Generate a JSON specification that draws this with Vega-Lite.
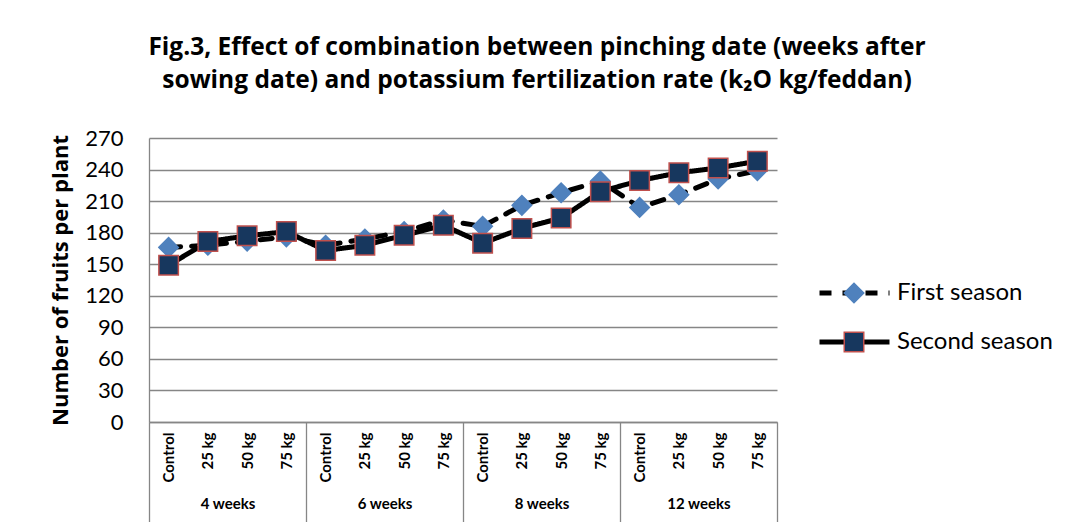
{
  "$schema": "https://vega.github.io/schema/vega-lite/v6.json",
  "autosize": {"type": "none"},
  "width": 628,
  "height": 284,
  "padding": {"left": 149, "top": 138, "right": 294, "bottom": 100},
  "background": "white",
  "config": {
    "font": "Lato",
    "view": {"stroke": null},
    "axis": {"domainColor": "#868686", "domainWidth": 1.3, "labelColor": "black", "titleColor": "black"}
  },
  "title": {
    "text": ["Fig.3, Effect of combination between pinching date (weeks after", "sowing date) and potassium fertilization rate (k₂O kg/feddan)"],
    "font": "Open Sans",
    "fontSize": 24.5,
    "fontWeight": "bold",
    "color": "black",
    "anchor": "middle",
    "frame": "group",
    "dx": 74,
    "lineHeight": 33,
    "offset": 34
  },
  "data": {
    "values": [
      {"group": "4 weeks", "rate": "Control", "season": "First season", "value": 166},
      {"group": "4 weeks", "rate": "25 kg", "season": "First season", "value": 168},
      {"group": "4 weeks", "rate": "50 kg", "season": "First season", "value": 172},
      {"group": "4 weeks", "rate": "75 kg", "season": "First season", "value": 176},
      {"group": "6 weeks", "rate": "Control", "season": "First season", "value": 168},
      {"group": "6 weeks", "rate": "25 kg", "season": "First season", "value": 174},
      {"group": "6 weeks", "rate": "50 kg", "season": "First season", "value": 181},
      {"group": "6 weeks", "rate": "75 kg", "season": "First season", "value": 192},
      {"group": "8 weeks", "rate": "Control", "season": "First season", "value": 186},
      {"group": "8 weeks", "rate": "25 kg", "season": "First season", "value": 206},
      {"group": "8 weeks", "rate": "50 kg", "season": "First season", "value": 218},
      {"group": "8 weeks", "rate": "75 kg", "season": "First season", "value": 229},
      {"group": "12 weeks", "rate": "Control", "season": "First season", "value": 204},
      {"group": "12 weeks", "rate": "25 kg", "season": "First season", "value": 216},
      {"group": "12 weeks", "rate": "50 kg", "season": "First season", "value": 231},
      {"group": "12 weeks", "rate": "75 kg", "season": "First season", "value": 239},
      {"group": "4 weeks", "rate": "Control", "season": "Second season", "value": 149},
      {"group": "4 weeks", "rate": "25 kg", "season": "Second season", "value": 171.5},
      {"group": "4 weeks", "rate": "50 kg", "season": "Second season", "value": 177},
      {"group": "4 weeks", "rate": "75 kg", "season": "Second season", "value": 181},
      {"group": "6 weeks", "rate": "Control", "season": "Second season", "value": 163},
      {"group": "6 weeks", "rate": "25 kg", "season": "Second season", "value": 168},
      {"group": "6 weeks", "rate": "50 kg", "season": "Second season", "value": 177.5},
      {"group": "6 weeks", "rate": "75 kg", "season": "Second season", "value": 187},
      {"group": "8 weeks", "rate": "Control", "season": "Second season", "value": 170},
      {"group": "8 weeks", "rate": "25 kg", "season": "Second season", "value": 184},
      {"group": "8 weeks", "rate": "50 kg", "season": "Second season", "value": 194},
      {"group": "8 weeks", "rate": "75 kg", "season": "Second season", "value": 219},
      {"group": "12 weeks", "rate": "Control", "season": "Second season", "value": 229.5},
      {"group": "12 weeks", "rate": "25 kg", "season": "Second season", "value": 237},
      {"group": "12 weeks", "rate": "50 kg", "season": "Second season", "value": 241.5},
      {"group": "12 weeks", "rate": "75 kg", "season": "Second season", "value": 248}
    ]
  },
  "transform": [{"calculate": "datum.group + '|' + datum.rate", "as": "key"}],
  "layer": [
    {
      "encoding": {
        "x": {
          "field": "key", "type": "nominal", "sort": null,
          "scale": {"type": "point", "padding": 0.5},
          "axis": {
            "title": null,
            "labelExpr": "split(datum.label, '|')[1]",
            "labelAngle": -90,
            "labelAlign": "right",
            "labelBaseline": "middle",
            "labelPadding": 10,
            "labelFont": "Lato",
            "labelFontSize": 15,
            "labelFontWeight": "bold",
            "ticks": false,
            "grid": false,
            "labelOverlap": false
          }
        },
        "y": {
          "field": "value", "type": "quantitative",
          "scale": {"domain": [0, 270], "nice": false, "zero": true},
          "axis": {
            "values": [0, 30, 60, 90, 120, 150, 180, 210, 240, 270],
            "tickCount": 10,
            "labelOverlap": false,
            "title": "Number of fruits per plant",
            "titleFont": "Open Sans",
            "titleFontSize": 22,
            "titleFontWeight": "bold",
            "titlePadding": 12,
            "labelFont": "Lato",
            "labelFontSize": 22,
            "labelPadding": 26,
            "ticks": false,
            "grid": true,
            "gridColor": "#868686",
            "gridWidth": 1.3
          }
        }
      },
      "layer": [
        {
          "mark": {"type": "line", "color": "black", "strokeWidth": 5, "strokeCap": "round"},
          "encoding": {
            "strokeDash": {
              "field": "season", "type": "nominal",
              "scale": {"domain": ["First season", "Second season"], "range": [[12, 11], [1, 0]]},
              "legend": {
                "orient": "none",
                "legendX": 668,
                "legendY": 143,
                "title": null,
                "symbolType": "stroke",
                "symbolSize": 4900,
                "symbolStrokeWidth": 5,
                "symbolStrokeColor": "black",
                "labelFont": "Lato",
                "labelFontSize": 24,
                "labelColor": "black",
                "labelOffset": 5,
                "clipHeight": 24,
                "rowPadding": 25,
                "zindex": 1
              }
            }
          }
        },
        {
          "mark": {"type": "point", "filled": true, "opacity": 1, "size": 380, "strokeWidth": 1.5},
          "encoding": {
            "shape": {"field": "season", "type": "nominal", "scale": {"range": ["diamond", "square"]},
              "legend": {
                "orient": "none",
                "legendX": 693,
                "legendY": 143,
                "title": null,
                "symbolSize": 380,
                "symbolStrokeWidth": 1.5,
                "labelFont": "Lato",
                "labelFontSize": 24,
                "labelExpr": "''",
                "labelOffset": 5,
                "clipHeight": 24,
                "rowPadding": 25,
                "zindex": 2
              }
            },
            "fill": {"field": "season", "type": "nominal", "scale": {"range": ["#4F81BD", "#17375E"]}},
            "stroke": {"field": "season", "type": "nominal", "scale": {"range": ["#4F81BD", "#C0504D"]}}
          }
        }
      ]
    },
    {
      "mark": {"type": "rule", "opacity": 0},
      "encoding": {
        "x": {
          "field": "group", "type": "nominal", "sort": null,
          "scale": {"type": "band", "paddingInner": 0, "paddingOuter": 0},
          "axis": {
            "orient": "bottom",
            "title": null,
            "tickBand": "extent",
            "tickSize": 100,
            "tickColor": "#868686",
            "tickWidth": 1.3,
            "domain": false,
            "labelAngle": 0,
            "labelPadding": -26,
            "labelFont": "Lato",
            "labelFontSize": 15,
            "labelFontWeight": "bold",
            "labelColor": "black",
            "grid": false
          }
        }
      }
    }
  ],
  "resolve": {"scale": {"x": "independent"}}
}
